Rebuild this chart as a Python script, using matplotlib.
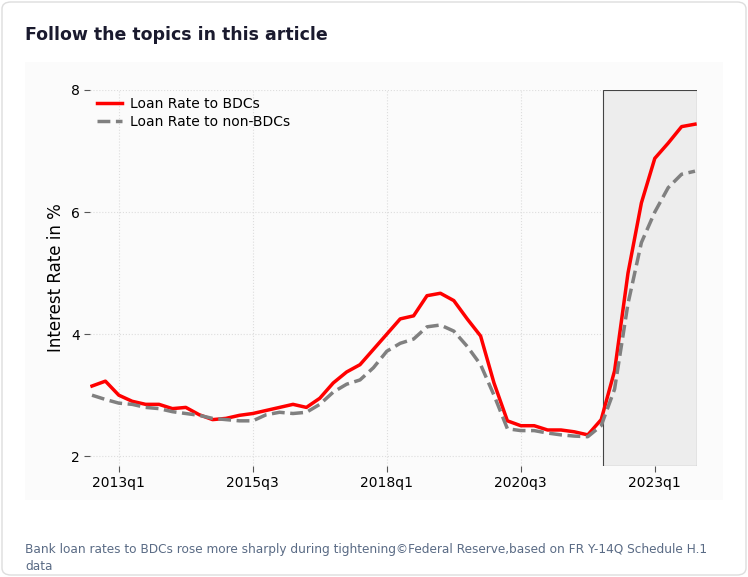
import matplotlib.pyplot as plt
from matplotlib.patches import FancyBboxPatch, Rectangle

# quarterly series 2012q3 .. 2023q4
quarters = [f"{y}q{q}" for y in range(2012, 2024) for q in range(1, 5)][2:]
bdc = [3.15, 3.23, 3.0, 2.9, 2.85, 2.85, 2.78, 2.8, 2.68, 2.6,
       2.62, 2.67, 2.7, 2.75, 2.8, 2.85, 2.8, 2.95, 3.2, 3.38,
       3.5, 3.75, 4.0, 4.25, 4.3, 4.63, 4.67, 4.55, 4.25, 3.97,
       3.2, 2.58, 2.5, 2.5, 2.43, 2.43, 2.4, 2.35, 2.6, 3.4,
       5.0, 6.15, 6.88, 7.13, 7.4, 7.44]
non_bdc = [3.0, 2.93, 2.87, 2.85, 2.8, 2.78, 2.73, 2.7, 2.67, 2.62,
           2.6, 2.58, 2.58, 2.68, 2.72, 2.7, 2.72, 2.85, 3.05, 3.18,
           3.25, 3.45, 3.72, 3.85, 3.92, 4.12, 4.15, 4.05, 3.8, 3.5,
           3.0, 2.45, 2.42, 2.42, 2.38, 2.35, 2.33, 2.32, 2.5, 3.1,
           4.5, 5.5, 6.0, 6.4, 6.62, 6.67]
tick_labels = ["2013q1", "2015q3", "2018q1", "2020q3", "2023q1"]
shade_start = 38.1

W, H = 748, 577
fig = plt.figure(figsize=(W / 100, H / 100), dpi=100)
card = FancyBboxPatch((2 / W, 2 / H), 1 - 4 / W, 1 - 4 / H,
                      boxstyle="round,pad=0,rounding_size=0.012",
                      transform=fig.transFigure, fc="white",
                      ec="#dddddd", lw=1, zorder=-10)
fig.patches.append(card)
# faint plot backdrop
fig.patches.append(Rectangle((25 / W, 1 - 500 / H), 698 / W, 438 / H,
                             transform=fig.transFigure, fc="#fbfbfb",
                             ec="none", zorder=-9))
fig.text(25 / W, 1 - 35 / H, "Follow the topics in this article", fontsize=12.5,
         fontweight="bold", color="#1a1a2e", va="center")

ax = fig.add_axes([90 / W, 1 - 466 / H, 607 / W, 376 / H])
ax.patch.set_alpha(0)
x = list(range(len(quarters)))
ax.axvspan(shade_start, 45.15, ymin=0, ymax=1, fc="#ededed", ec="#444444", lw=0.8)
ax.grid(True, color="#dddddd", linestyle=":", lw=0.8)
ax.set_axisbelow(True)
ax.plot(x, bdc, color="red", lw=2.5, label="Loan Rate to BDCs")
ax.plot(x, non_bdc, color="#808080", lw=2.5, ls="--", label="Loan Rate to non-BDCs")
ax.set_xlim(-0.15, 45.15)
ax.set_ylim(1.84, 8)
ax.set_yticks([2, 4, 6, 8])
ax.set_xticks([quarters.index(t) for t in tick_labels])
ax.set_xticklabels(tick_labels)
for s in ax.spines.values():
    s.set_visible(False)
ax.tick_params(axis="both", labelsize=10, length=4, color="#555555")
ax.set_ylabel("Interest Rate in %", fontsize=12)
ax.legend(loc="upper left", frameon=False, fontsize=10, handlelength=1.8,
          borderaxespad=0.1, labelspacing=0.3, handletextpad=0.6)

fig.text(25 / W, 1 - 549 / H,
         "Bank loan rates to BDCs rose more sharply during tightening©Federal Reserve,based on FR Y-14Q Schedule H.1",
         fontsize=8.7, color="#5a6b85", va="center")
fig.text(25 / W, 1 - 566 / H, "data", fontsize=8.7, color="#5a6b85", va="center")

fig.savefig("out.png", dpi=100)
